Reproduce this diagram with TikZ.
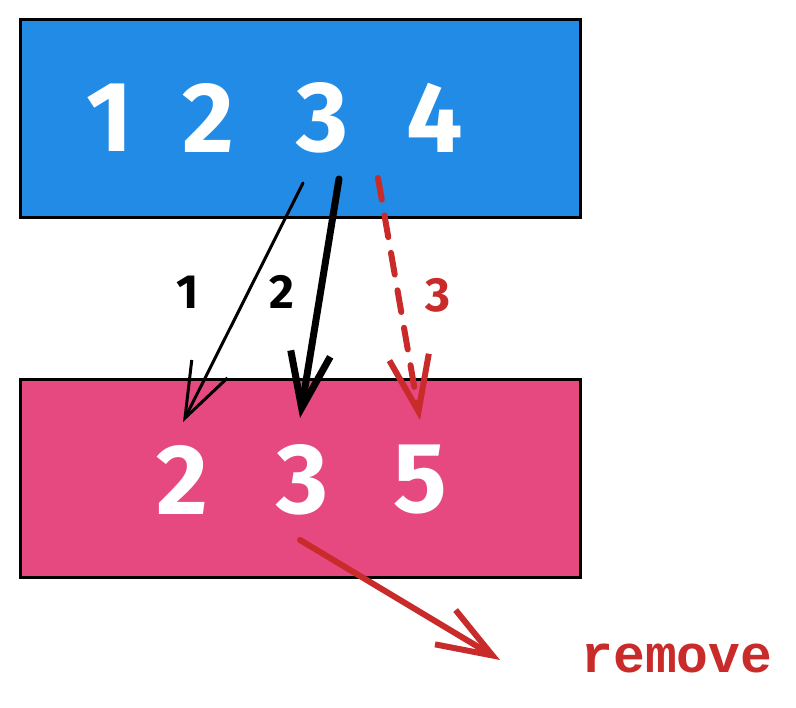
\documentclass[tikz,border=0pt]{standalone}
\usepackage{fontspec}
\setmainfont{Fira Sans}
\newfontfamily\codefont{Liberation Mono}
\usetikzlibrary{arrows.meta}
\definecolor{topblue}{HTML}{228BE6}
\definecolor{botpink}{HTML}{E64980}
\definecolor{remred}{HTML}{C92A2A}
\tikzset{box/.style={draw=black,line width=3pt,minimum width=560pt,minimum height=198pt},
digit/.style={text=white,font=\bfseries\fontsize{100}{100}\selectfont},
tag/.style={font=\bfseries\fontsize{48}{48}\selectfont},
barb/.style={-{Straight Barb[length=55pt,width=40pt]},line cap=round}}
\begin{document}
\begin{tikzpicture}[x=1pt,y=-1pt]
\useasboundingbox(0,0)rectangle(796,708);
\node[box,fill=topblue](top)at(300,119){};\node[box,fill=botpink](bot)at(300,479){};
\foreach\d/\x in{1/110,2/208,3/322,4/435}{\node[digit](t\d)at(\x,118){\d};}
\foreach\d/\x in{2/182,3/302,5/420}{\node[digit](b\d)at(\x,480){\d};}
\coordinate(s1)at(303,183);\coordinate(e1)at(183,422);
\coordinate(s2)at(339,179);\coordinate(e2)at(300,418);
\coordinate(s3)at(378,178);\coordinate(e3)at(420,420);
\coordinate(s4)at(300,540);\coordinate(e4)at(500,660);
\draw[barb,line width=3pt](s1)--(e1);
\draw[barb,line width=7pt](s2)--(e2);
\draw[barb,line width=6pt,remred,dash pattern=on 22pt off 16pt](s3)--(e3);
\draw[barb,line width=6pt,remred](s4)--(e4);
\node[tag](l1)at(188,292){1};\node[tag](l2)at(282,292){2};\node[tag,text=remred](l3)at(438,295){3};
\node[text=remred,font=\codefont\bfseries\fontsize{53}{53}\selectfont](rm)at(677,658){remove};
\end{tikzpicture}
\end{document}
